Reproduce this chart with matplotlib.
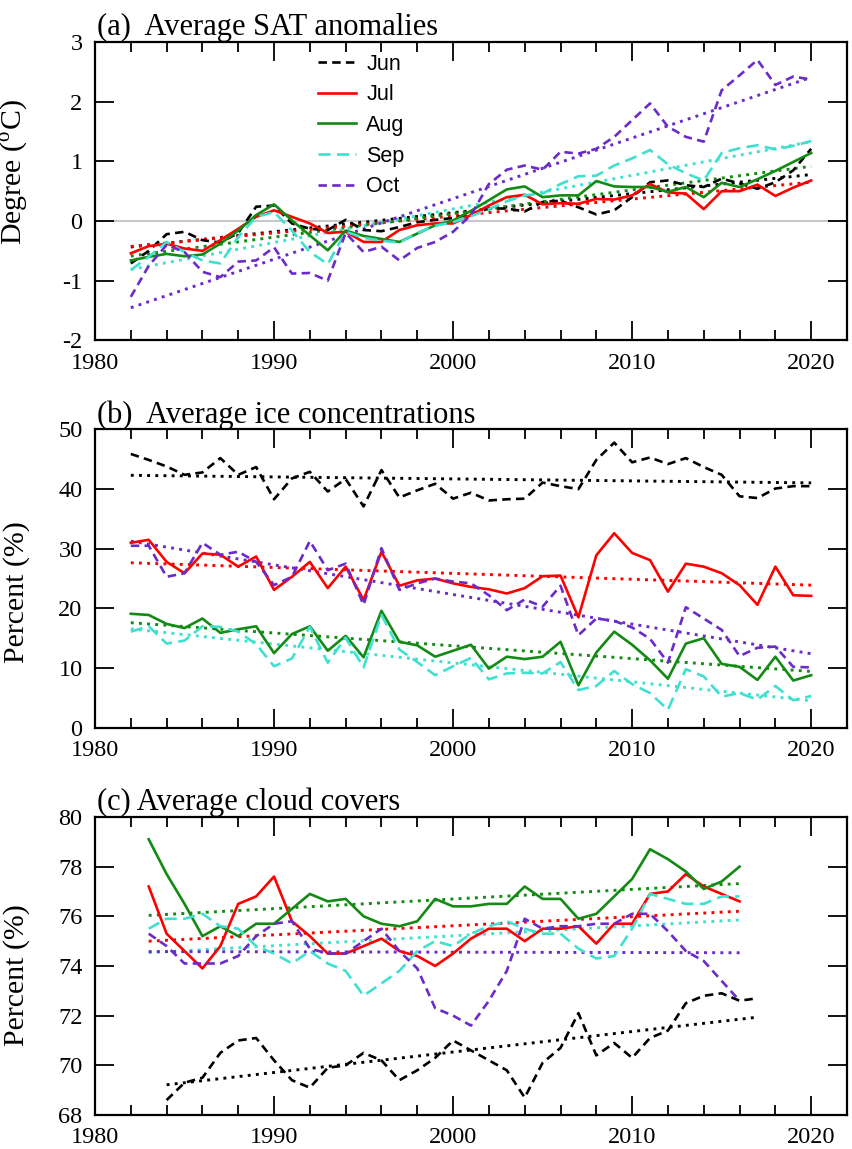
import matplotlib
matplotlib.use("Agg")
import matplotlib.pyplot as plt
from matplotlib.ticker import MultipleLocator
import numpy as np

plt.rcParams['font.family'] = 'Liberation Serif'
plt.rcParams['mathtext.fontset'] = 'custom'
plt.rcParams['mathtext.rm'] = 'Liberation Serif'
plt.rcParams['axes.unicode_minus'] = False

# Years
years_ab = np.arange(1982, 2021)
years_c = np.arange(1983, 2017)
years_c_jun = np.arange(1984, 2018)

# (a) SAT anomalies (degC)
sat_jun = [-0.71, -0.5, -0.22, -0.18, -0.32, -0.36, -0.2, 0.24, 0.26, -0.04,
           -0.13, -0.15, 0.02, -0.15, -0.17, -0.1, -0.02, 0.02, 0.05, 0.12,
           0.21, 0.21, 0.16, 0.32, 0.34, 0.23, 0.11, 0.18, 0.4, 0.65,
           0.68, 0.6, 0.57, 0.71, 0.63, 0.54, 0.65, 0.85, 1.21]
sat_jul = [-0.54, -0.42, -0.38, -0.46, -0.5, -0.32, -0.13, 0.07, 0.18, 0.07,
           -0.04, -0.2, -0.18, -0.35, -0.35, -0.15, -0.07, -0.04, -0.04, 0.1,
           0.26, 0.4, 0.44, 0.28, 0.3, 0.29, 0.37, 0.36, 0.43, 0.62,
           0.48, 0.46, 0.2, 0.5, 0.5, 0.61, 0.42, 0.56, 0.68]
sat_aug = [-0.66, -0.6, -0.55, -0.59, -0.56, -0.38, -0.16, 0.1, 0.28, 0.01,
           -0.24, -0.49, -0.16, -0.25, -0.3, -0.35, -0.21, -0.07, 0.01, 0.17,
           0.35, 0.53, 0.58, 0.4, 0.43, 0.43, 0.67, 0.58, 0.57, 0.57,
           0.49, 0.57, 0.4, 0.64, 0.57, 0.7, 0.84, 0.99, 1.14]
sat_sep = [-0.82, -0.6, -0.35, -0.52, -0.66, -0.71, -0.27, 0.07, 0.15, -0.16,
           -0.52, -0.72, -0.18, -0.28, -0.33, -0.36, -0.2, -0.08, -0.02, 0.08,
           0.2, 0.33, 0.43, 0.46, 0.62, 0.75, 0.76, 0.93, 1.05, 1.19,
           0.95, 0.8, 0.68, 1.14, 1.22, 1.27, 1.2, 1.26, 1.34]
sat_oct = [-1.27, -0.75, -0.4, -0.52, -0.85, -0.94, -0.68, -0.66, -0.44, -0.88,
           -0.87, -1.0, -0.2, -0.52, -0.43, -0.66, -0.45, -0.35, -0.18, 0.1,
           0.62, 0.86, 0.93, 0.86, 1.16, 1.13, 1.21, 1.41, 1.69, 1.97,
           1.58, 1.41, 1.33, 2.19, 2.44, 2.7, 2.28, 2.42, 2.37]

# (b) ice concentrations (%)
ice_jun = [45.9, 44.9, 43.8, 42.4, 42.8, 45.2, 42.4, 43.7, 38.3, 41.8,
           42.9, 39.6, 41.7, 37.1, 43.2, 38.6, 39.8, 40.9, 38.4, 39.4,
           38.1, 38.3, 38.4, 41.1, 40.5, 40.0, 44.9, 47.8, 44.5, 45.3,
           44.2, 45.2, 43.7, 42.4, 38.8, 38.5, 40.1, 40.5, 40.5]
ice_jul = [31.0, 31.5, 27.8, 25.9, 29.2, 29.0, 27.0, 28.7, 23.1, 25.3,
           27.8, 23.4, 27.0, 21.4, 29.5, 23.8, 24.7, 25.0, 24.2, 23.6,
           23.2, 22.5, 23.4, 25.4, 25.5, 18.5, 28.9, 32.6, 29.3, 28.1,
           22.8, 27.5, 27.0, 25.9, 23.9, 20.6, 27.0, 22.2, 22.1]
ice_aug = [19.1, 18.9, 17.4, 16.7, 18.3, 15.9, 16.5, 17.0, 12.5, 15.7,
           17.0, 12.9, 15.4, 11.8, 19.6, 14.4, 13.8, 11.9, 12.9, 13.9,
           9.9, 11.9, 11.5, 11.9, 14.4, 7.1, 12.6, 16.1, 13.9, 11.3,
           8.2, 14.1, 15.0, 10.7, 10.2, 8.0, 11.9, 7.9, 8.8]
ice_sep = [16.1, 17.0, 14.1, 14.6, 17.0, 16.9, 16.1, 14.0, 10.3, 11.6,
           16.9, 10.9, 15.1, 10.1, 18.9, 13.1, 11.0, 8.8, 10.3, 11.7,
           8.1, 9.1, 9.2, 9.1, 11.0, 6.3, 7.0, 9.5, 7.3, 5.8,
           3.0, 9.8, 8.6, 5.2, 5.8, 4.7, 7.0, 4.6, 5.3]
ice_oct = [30.5, 30.5, 25.3, 25.9, 31.0, 29.0, 29.5, 27.8, 23.9, 25.3,
           31.3, 26.4, 27.5, 20.6, 30.1, 23.1, 24.2, 25.0, 24.5, 24.2,
           22.2, 19.7, 21.5, 20.3, 23.8, 15.5, 18.3, 17.9, 16.8, 14.9,
           10.9, 20.2, 18.3, 16.4, 12.0, 13.4, 13.6, 10.2, 10.1]

# (c) cloud covers (%)
cld_jun = [68.6, 69.3, 69.5, 70.5, 71.0, 71.1, 70.2, 69.4, 69.1, 69.9,
           70.0, 70.5, 70.2, 69.4, 69.8, 70.3, 71.0, 70.6, 70.2, 69.8,
           68.7, 70.1, 70.7, 72.1, 70.4, 70.9, 70.3, 71.1, 71.4, 72.5,
           72.8, 72.9, 72.6, 72.7]
cld_jul = [77.2, 75.3, 74.6, 73.9, 74.8, 76.5, 76.8, 77.6, 75.8, 75.2,
           74.5, 74.5, 74.8, 75.1, 74.6, 74.4, 74.0, 74.5, 75.1, 75.5,
           75.5, 75.0, 75.5, 75.5, 75.6, 74.9, 75.7, 75.7, 76.9, 77.0,
           77.7, 77.2, 76.9, 76.6]
cld_aug = [79.1, 77.7, 76.5, 75.2, 75.6, 75.2, 75.7, 75.7, 76.3, 76.9,
           76.6, 76.7, 76.0, 75.7, 75.6, 75.8, 76.7, 76.4, 76.4, 76.5,
           76.5, 77.2, 76.7, 76.7, 75.9, 76.1, 76.8, 77.5, 78.7, 78.3,
           77.8, 77.1, 77.4, 78.0]
cld_sep = [75.5, 75.9, 75.9, 76.1, 75.6, 75.5, 74.8, 74.5, 74.1, 74.6,
           74.1, 73.8, 72.8, 73.3, 73.8, 74.6, 75.0, 74.8, 75.3, 75.6,
           75.8, 75.5, 75.3, 75.3, 74.7, 74.3, 74.4, 75.5, 76.9, 76.7,
           76.5, 76.5, 76.8, 76.8]
cld_oct = [75.3, 74.8, 74.1, 74.1, 74.1, 74.4, 75.2, 75.7, 75.8, 74.7,
           74.5, 74.5, 75.0, 75.5, 74.6, 73.9, 72.3, 72.0, 71.6, 72.6,
           73.8, 75.9, 75.5, 75.6, 75.6, 75.7, 75.7, 76.1, 76.1, 75.4,
           74.6, 74.2, 73.4, 72.6]

months = ['Jun', 'Jul', 'Aug', 'Sep', 'Oct']
colors = ['black', '#ff0000', '#138a13', '#40e0d0', '#6a2bc9']
styles = [(0, (3.2, 2)), '-', '-', (0, (4.6, 2.4)), (0, (3.2, 2))]

fig = plt.figure(figsize=(8.52, 11.49), dpi=100)
left, width = 0.1115, 0.8826
ax_a = fig.add_axes([left, 0.7037, width, 0.2598])
ax_b = fig.add_axes([left, 0.3667, width, 0.2595])
ax_c = fig.add_axes([left, 0.0296, width, 0.2594])

panels = [
    (ax_a, [years_ab] * 5, [sat_jun, sat_jul, sat_aug, sat_sep, sat_oct],
     "(a)  Average SAT anomalies", "Degree ($^{\\rm o}$C)", (-2, 3), 1, 0.565),
    (ax_b, [years_ab] * 5, [ice_jun, ice_jul, ice_aug, ice_sep, ice_oct],
     "(b)  Average ice concentrations", "Percent (%)", (0, 50), 10, 0.455),
    (ax_c, [years_c_jun] + [years_c] * 4, [cld_jun, cld_jul, cld_aug, cld_sep, cld_oct],
     "(c) Average cloud covers", "Percent (%)", (68, 80), 2, 0.47),
]

for ax, xs, series, title, ylabel, ylim, ystep, ylab_y in panels:
    if ax is ax_a:
        ax.axhline(0, color='#c8c8c8', lw=1.5, zorder=1)
    for i in range(5):
        x = np.asarray(xs[i])
        y = np.asarray(series[i])
        ax.plot(x, y, color=colors[i], linestyle=styles[i], lw=1.9,
                label=months[i], zorder=3)
        # linear trend
        k, b = np.polyfit(x, y, 1)
        ax.plot(x, k * x + b, color=colors[i], linestyle=(0, (1, 1.8)),
                lw=2.1, zorder=2)
    ax.set_xlim(1980, 2022)
    ax.set_ylim(*ylim)
    ax.xaxis.set_major_locator(MultipleLocator(10))
    ax.xaxis.set_minor_locator(MultipleLocator(2))
    ax.yaxis.set_major_locator(MultipleLocator(ystep))
    ax.tick_params(which='both', direction='in', top=True, right=True,
                   labelsize=17.5)
    ax.tick_params(which='major', length=14, width=1.3)
    ax.tick_params(which='minor', length=7, width=1.3)
    ax.tick_params(axis='y', pad=9)
    ax.tick_params(axis='x', pad=9)
    for s in ax.spines.values():
        s.set_linewidth(1.6)
    ax.text(0.003, 1.0 + 7 / 298.5, title, transform=ax.transAxes,
            fontsize=22, va='baseline', ha='left')
    ax.set_ylabel(ylabel, fontsize=21.5)
    ax.yaxis.set_label_coords(-0.087, ylab_y)

ax_a.legend(loc='upper left', bbox_to_anchor=(0.285, 0.99), frameon=False,
            prop={'family': 'Liberation Sans', 'size': 15.5},
            handlelength=1.75, handletextpad=0.5, labelspacing=0.45,
            borderaxespad=0)

fig.savefig('out.png', dpi=100)
